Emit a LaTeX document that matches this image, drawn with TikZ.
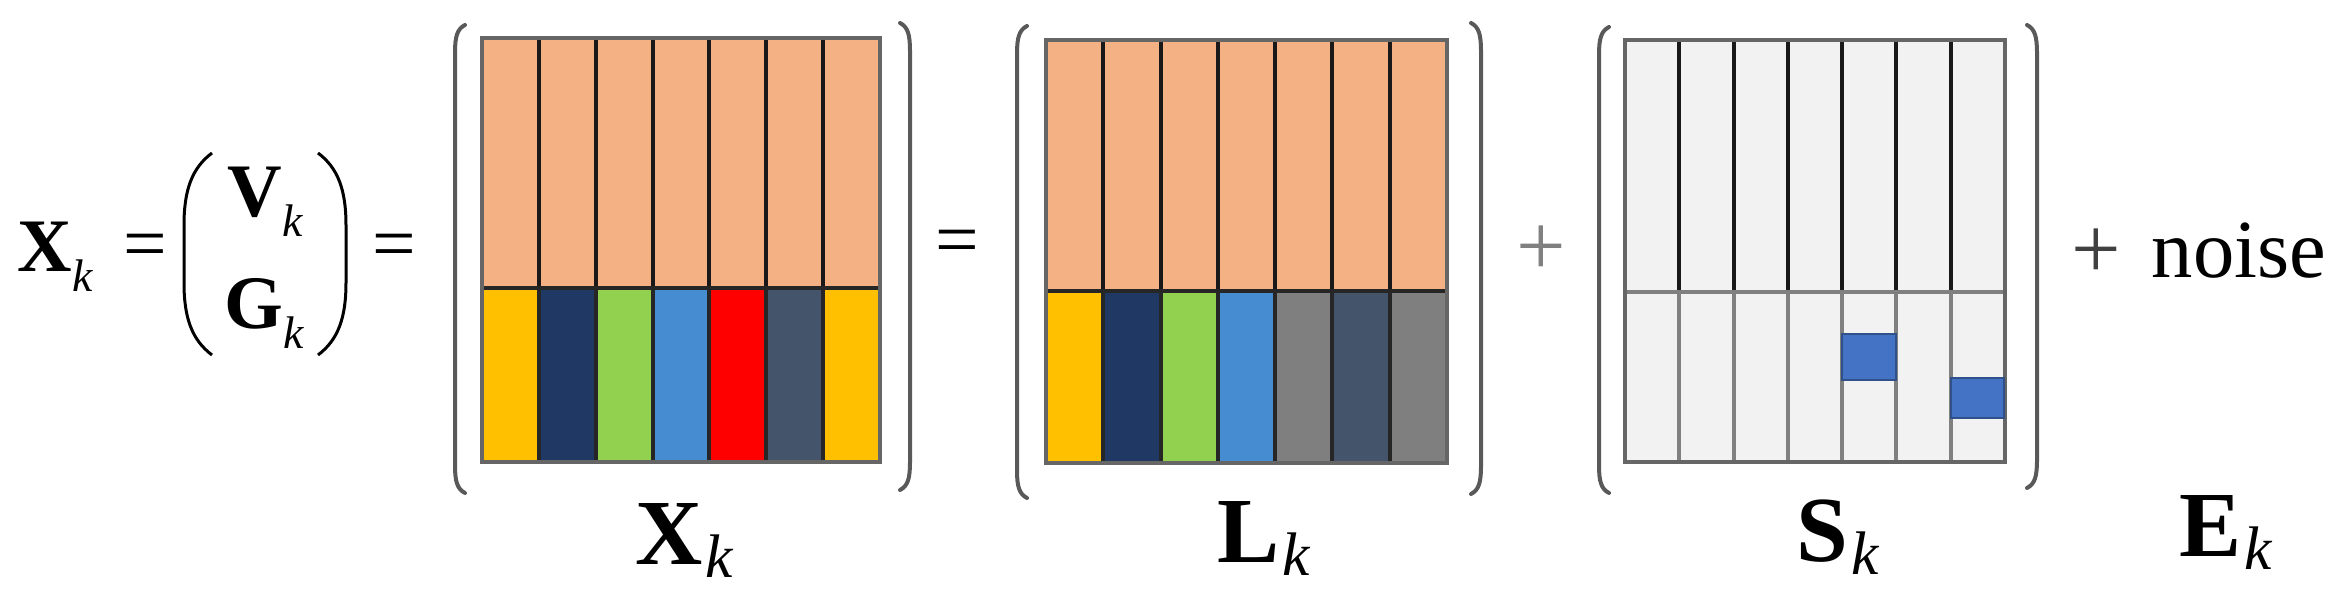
\documentclass[tikz,border=0pt]{standalone}
\usepackage{fontspec}
\setmainfont{Liberation Serif}

\definecolor{peach}{HTML}{F4B183}
\definecolor{gold}{HTML}{FFC000}
\definecolor{navy}{HTML}{1F3864}
\definecolor{leaf}{HTML}{92D050}
\definecolor{sky}{HTML}{458DD0}
\definecolor{slate}{HTML}{44546A}
\definecolor{midgray}{HTML}{7F7F7F}
\definecolor{cellgray}{HTML}{F2F2F2}
\definecolor{spikeblue}{HTML}{4472C4}

\tikzset{
  frame/.style={draw=black!60, line width=0.4mm},
  sep/.style={draw=black!90, line width=0.4mm},
  paren/.style={draw=black!65, line width=0.4mm, line cap=round},
  thinparen/.style={draw=black, line width=0.3mm},
  lhs/.style={font=\fontsize{21.5}{24}\selectfont, inner sep=0pt, anchor=base},
  lbl/.style={font=\fontsize{26.5}{30}\selectfont, inner sep=0pt, anchor=base},
  op/.style={font=\fontsize{22}{24}\selectfont, inner sep=0pt},
  plus/.style={op, font=\fontsize{25}{28}\selectfont},
  spike/.style={fill=spikeblue, draw=spikeblue!70!black, line width=0.25mm},
}

\newcommand{\bigsym}[1]{\textbf{#1}\kern0.3mm\raisebox{-1.3mm}{\fontsize{17.5}{18}\selectfont\itshape k}}
\newcommand{\smallsym}[1]{\textbf{#1}\raisebox{-2mm}{\fontsize{13}{14}\selectfont\itshape k}}

% left, right, top, middle, bottom, upper fill, lower fills, lower line colour
\newcommand{\colmat}[8]{%
  \fill[#6] (#1,#3) rectangle (#2,#4);
  \foreach \c [count=\i from 0] in {#7}
    \fill[\c] ({#1+\i*(#2-#1)/7},#4) rectangle ({#1+(\i+1)*(#2-#1)/7},#5);
  \foreach \i in {1,...,6} {
    \draw[sep] ({#1+\i*(#2-#1)/7},#3) -- ({#1+\i*(#2-#1)/7},#4);
    \draw[sep, draw=#8] ({#1+\i*(#2-#1)/7},#4) -- ({#1+\i*(#2-#1)/7},#5);
  }
  \draw[sep, draw=#8] (#1,#4) -- (#2,#4);
  \draw[frame] (#1,#3) rectangle (#2,#5);
}
\newcommand{\parL}[3]{\draw[paren] ({#1+10},#2) .. controls ({#1+2},{#2+4}) and (#1,{#2+12}) .. (#1,{#2+28}) -- (#1,{#3-28}) .. controls (#1,{#3-12}) and ({#1+2},{#3-4}) .. ({#1+10},#3);}
\newcommand{\parR}[3]{\draw[paren] ({#1-10},#2) .. controls ({#1-2},{#2+4}) and (#1,{#2+12}) .. (#1,{#2+28}) -- (#1,{#3-28}) .. controls (#1,{#3-12}) and ({#1-2},{#3-4}) .. ({#1-10},#3);}

\begin{document}
\begin{tikzpicture}[x=0.1mm, y=-0.1mm]
\useasboundingbox (0,0) rectangle (2332,601);

% X_k = (V_k ; G_k) =
\node[lhs] (xk) at (55,272) {\smallsym{X}};
\node[op] (eqa) at (145,252) {=};
\draw[thinparen] (212,153) .. controls (192,168) and (184,190) .. (184,225) -- (184,283) .. controls (184,318) and (192,340) .. (212,355);
\draw[thinparen] (318,153) .. controls (338,168) and (346,190) .. (346,225) -- (346,283) .. controls (346,318) and (338,340) .. (318,355);
\node[lhs] (vk) at (265,217) {\smallsym{V}};
\node[lhs] (gk) at (264,329) {\smallsym{G}};
\node[op] (eqb) at (394,252) {=};

% X_k
\colmat{482}{880}{38}{288}{462}{peach}{gold,navy,leaf,sky,red,slate,gold}{black!85}
\parL{455}{25}{493} \parR{910}{23}{490}
\node[lbl] (xlbl) at (684,565) {\bigsym{X}};
\node[op] (eqc) at (957,248) {=};

% L_k
\colmat{1046}{1447}{40}{291}{463}{peach}{gold,navy,leaf,sky,midgray,slate,midgray}{black!85}
\parL{1017}{26}{498} \parR{1481}{23}{494}
\node[lbl] (llbl) at (1264,563) {\bigsym{L}};
\node[plus, text=black!50] (plusa) at (1541,251) {+};

% S_k
\colmat{1625}{2005}{40}{292}{462}{cellgray}{cellgray,cellgray,cellgray,cellgray,cellgray,cellgray,cellgray}{black!50}
\draw[spike] (1842,334) rectangle (1896,380);
\draw[spike] (1951,378) rectangle (2004,418);
\parL{1599}{27}{493} \parR{2037}{25}{488}
\node[lbl] (slbl) at (1838,562) {\bigsym{S}};

% + noise, E_k
\node[plus, text=black!75] (plusb) at (2096,254) {+};
\node[inner sep=0pt, anchor=base west, font=\fontsize{23.5}{26}\selectfont] (noise) at (2151,278) {noise};
\node[lbl] (elbl) at (2226,557) {\bigsym{E}};
\end{tikzpicture}
\end{document}
